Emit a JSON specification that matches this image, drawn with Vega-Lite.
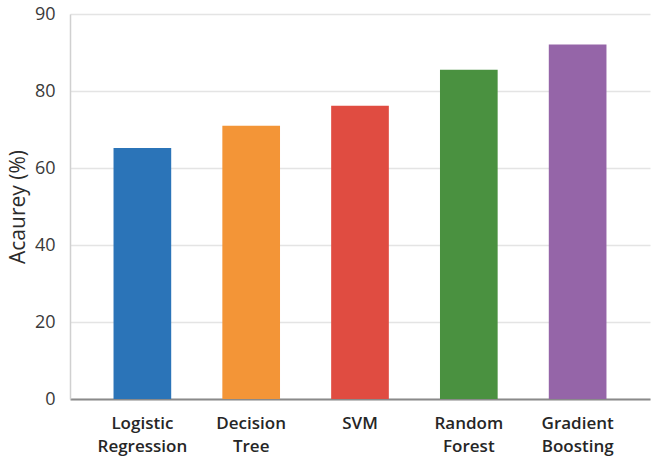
{
  "$schema": "https://vega.github.io/schema/vega-lite/v6.json",
  "width": 580,
  "height": 385,
  "autosize": "none",
  "padding": {"left": 70, "top": 14, "right": 7, "bottom": 66},
  "background": "#ffffff",
  "data": {
    "values": [
      {"model": "Logistic Regression", "accuracy": 65.2},
      {"model": "Decision Tree", "accuracy": 71.0},
      {"model": "SVM", "accuracy": 76.2},
      {"model": "Random Forest", "accuracy": 85.5},
      {"model": "Gradient Boosting", "accuracy": 92.1}
    ]
  },
  "config": {
    "view": {"stroke": null},
    "font": "Open Sans"
  },
  "mark": {"type": "bar"},
  "encoding": {
    "x": {
      "field": "model",
      "type": "nominal",
      "sort": null,
      "scale": {"paddingInner": 0.47, "paddingOuter": 0.4},
      "axis": {
        "title": null,
        "labelAngle": 0,
        "labelExpr": "split(datum.label, ' ')",
        "labelFont": "Open Sans",
        "labelFontSize": 17,
        "labelFontWeight": 600,
        "labelColor": "#262626",
        "labelPadding": 16,
        "labelLineHeight": 23,
        "ticks": false,
        "domainColor": "#8a8a8a",
        "domainWidth": 2,
        "grid": false
      }
    },
    "y": {
      "field": "accuracy",
      "type": "quantitative",
      "scale": {"domain": [0, 100], "nice": false},
      "axis": {
        "title": "Acaurey (%)",
        "titleFont": "Open Sans",
        "titleFontSize": 21,
        "titleFontWeight": "normal",
        "titleColor": "#2b2b2b",
        "titlePadding": 6,
        "values": [0, 20, 40, 60, 80, 100],
        "labelExpr": "datum.value == 100 ? '90' : datum.label",
        "labelFont": "Open Sans",
        "labelFontSize": 18,
        "labelColor": "#3a3a3a",
        "labelPadding": 15,
        "ticks": false,
        "domainColor": "#d0d0d0",
        "domainWidth": 1.5,
        "gridColor": "#e4e4e4",
        "gridWidth": 1.5
      }
    },
    "color": {
      "field": "model",
      "type": "nominal",
      "sort": null,
      "legend": null,
      "scale": {
        "domain": ["Logistic Regression", "Decision Tree", "SVM", "Random Forest", "Gradient Boosting"],
        "range": ["#2b74b8", "#f39537", "#e04c41", "#4a9140", "#9565a8"]
      }
    }
  }
}
